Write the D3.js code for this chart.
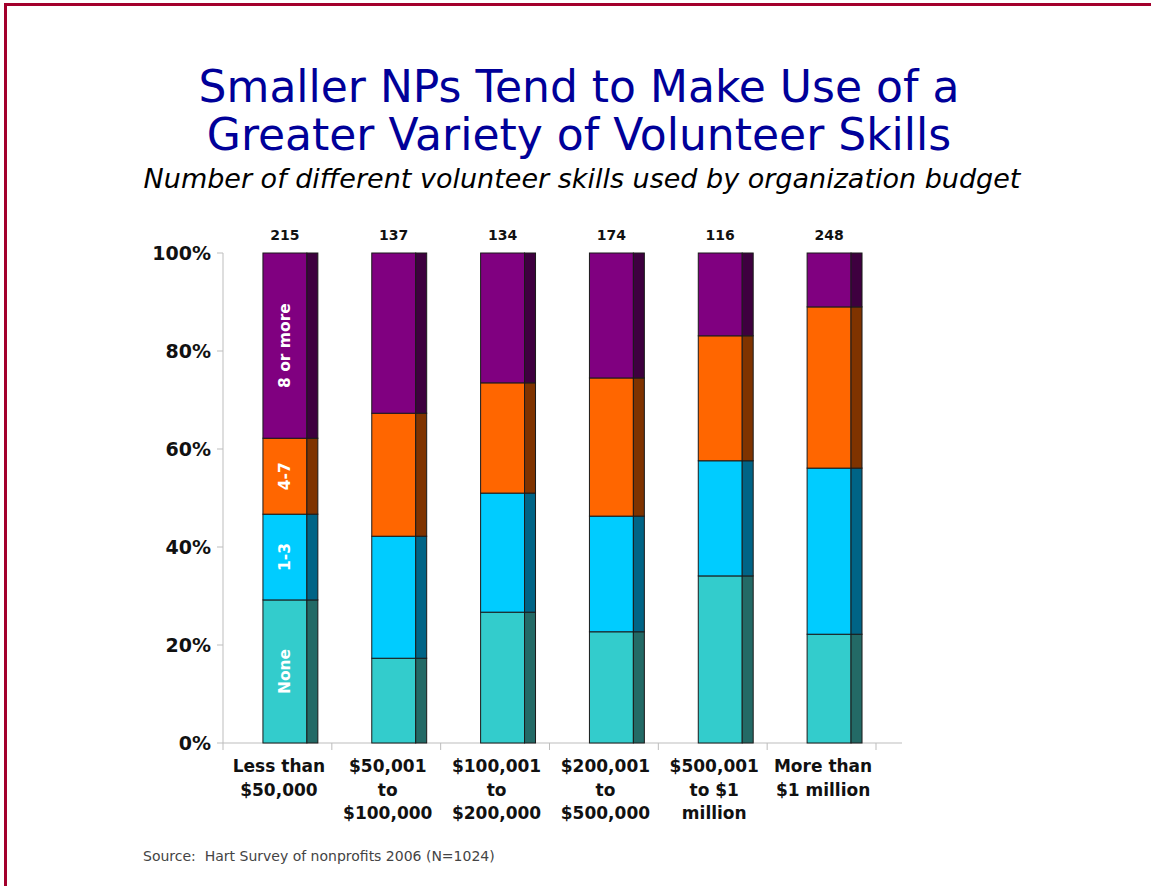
<!DOCTYPE html>
<html>
<head>
<meta charset="utf-8">
<script src="https://cdn.jsdelivr.net/npm/d3@7"></script>
<style>
  html, body { margin: 0; padding: 0; background: #fff; }
  svg { display: block; }
</style>
</head>
<body>
<div id="chart"></div>
<script>
// Budget categories (two/three-line axis labels)
const categories = [
  ["Less than", "$50,000"],
  ["$50,001", "to", "$100,000"],
  ["$100,001", "to", "$200,000"],
  ["$200,001", "to", "$500,000"],
  ["$500,001", "to $1", "million"],
  ["More than", "$1 million"]
];
// Respondents per budget group
const counts = [215, 137, 134, 174, 116, 248];
// Skill-count groups, bottom to top
const seriesNames = ["None", "1-3", "4-7", "8 or more"];
// Share of organizations (%) in each group, per budget category
const noneVals  = [29.2, 17.3, 26.7, 22.7, 34.1, 22.2];
const oneToThree = [17.5, 24.9, 24.3, 23.6, 23.5, 33.9];
const fourToSeven = [15.5, 25.1, 22.5, 28.2, 25.5, 32.9];
const eightPlus = [37.8, 32.7, 26.5, 25.5, 16.9, 11.0];
const yTicks = [0, 20, 40, 60, 80, 100];

const frontColors = ["#33cccc", "#00ccff", "#ff6600", "#800080"];
const sideColors  = ["#236a66", "#006486", "#7f3300", "#3e003f"];

const W = 1151, H = 886;
const svg = d3.select("#chart").append("svg").attr("width", W).attr("height", H);

// Slide frame (top and left rules)
svg.append("rect").attr("x", 4).attr("y", 3).attr("width", W - 4).attr("height", 3).attr("fill", "#a3002c");
svg.append("rect").attr("x", 4).attr("y", 3).attr("width", 3).attr("height", H - 3).attr("fill", "#a3002c");

const titleFont = "Tahoma, Verdana, 'DejaVu Sans', sans-serif";
const bodyFont = "Verdana, 'DejaVu Sans', sans-serif";
svg.append("text").attr("x", 579).attr("y", 102).attr("text-anchor", "middle")
  .attr("font-family", titleFont).attr("font-size", 44).attr("fill", "#000099")
  .text("Smaller NPs Tend to Make Use of a");
svg.append("text").attr("x", 579).attr("y", 150).attr("text-anchor", "middle")
  .attr("font-family", titleFont).attr("font-size", 44).attr("fill", "#000099")
  .text("Greater Variety of Volunteer Skills");
svg.append("text").attr("x", 582).attr("y", 188).attr("text-anchor", "middle")
  .attr("font-family", titleFont).attr("font-size", 27).attr("font-style", "italic").attr("fill", "#000")
  .text("Number of different volunteer skills used by organization budget");

// Scales
const x0 = 223, x1 = 876;
const x = d3.scaleBand().domain(d3.range(categories.length)).range([x0, x1]).padding(0);
const y = d3.scaleLinear().domain([0, 100]).range([743, 253]);
const bw = x.bandwidth();
const frontOff = bw * 40 / 109, frontW = bw * 44 / 109, sideW = bw * 11 / 109;

// Axes
const axisColor = "#bdbdbd";
const g = svg.append("g");
g.append("line").attr("x1", x0).attr("x2", x0).attr("y1", y(100)).attr("y2", y(0)).attr("stroke", axisColor);
g.append("line").attr("x1", x0).attr("x2", 902).attr("y1", y(0)).attr("y2", y(0)).attr("stroke", axisColor);
yTicks.forEach(t => {
  g.append("line").attr("x1", x0 - 6).attr("x2", x0).attr("y1", y(t)).attr("y2", y(t)).attr("stroke", axisColor);
  g.append("text").attr("x", 211).attr("y", y(t)).attr("dy", "0.36em").attr("text-anchor", "end")
    .attr("font-family", bodyFont).attr("font-weight", "bold")
    .attr("font-size", 19).attr("fill", "#111").text(t + "%");
});
d3.range(categories.length + 1).forEach(i => {
  const xt = x0 + i * bw;
  g.append("line").attr("x1", xt).attr("x2", xt).attr("y1", y(0)).attr("y2", y(0) + 7).attr("stroke", axisColor);
});

// Stack the series
const rows = categories.map((c, i) => ({
  i, "None": noneVals[i], "1-3": oneToThree[i], "4-7": fourToSeven[i], "8 or more": eightPlus[i]
}));
const stacked = d3.stack().keys(seriesNames)(rows);

const bars = svg.append("g");
stacked.forEach((layer, si) => {
  layer.forEach(d => {
    const i = d.data.i;
    const bx = x(i) + frontOff;
    const top = y(d[1]), bot = y(d[0]);
    bars.append("rect").attr("x", bx).attr("y", top).attr("width", frontW).attr("height", bot - top)
      .attr("fill", frontColors[si]).attr("stroke", "#1a1a1a").attr("stroke-width", 1);
    bars.append("rect").attr("x", bx + frontW).attr("y", top).attr("width", sideW).attr("height", bot - top)
      .attr("fill", sideColors[si]).attr("stroke", "#1a1a1a").attr("stroke-width", 1);
  });
});

// Series labels inside the first bar
const lblX = x(0) + frontOff + frontW / 2;
stacked.forEach((layer, si) => {
  const d = layer[0];
  const cy = (y(d[0]) + y(d[1])) / 2;
  bars.append("text").attr("transform", `translate(${lblX},${cy}) rotate(-90)`)
    .attr("text-anchor", "middle").attr("dy", "0.36em")
    .attr("font-family", bodyFont).attr("font-weight", "bold")
    .attr("font-size", 15.5).attr("fill", "#fff").text(seriesNames[si]);
});

// Counts above bars
counts.forEach((n, i) => {
  svg.append("text").attr("x", x(i) + frontOff + frontW / 2).attr("y", 240).attr("text-anchor", "middle")
    .attr("font-family", bodyFont).attr("font-weight", "bold")
    .attr("font-size", 14).attr("fill", "#111").text(n);
});

// Category labels
categories.forEach((lines, i) => {
  const cx = x(i) + bw / 2 + 1.5;
  const t = svg.append("text").attr("x", cx).attr("y", 772).attr("text-anchor", "middle")
    .attr("font-family", bodyFont).attr("font-weight", "bold")
    .attr("font-size", 17).attr("fill", "#111");
  lines.forEach((l, k) => t.append("tspan").attr("x", cx).attr("dy", k ? 23.5 : 0).text(l));
});

// Source note
svg.append("text").attr("x", 143).attr("y", 861)
  .attr("font-family", bodyFont).attr("font-size", 14).attr("fill", "#444")
  .attr("xml:space", "preserve").text("Source:  Hart Survey of nonprofits 2006 (N=1024)");
</script>
</body>
</html>
